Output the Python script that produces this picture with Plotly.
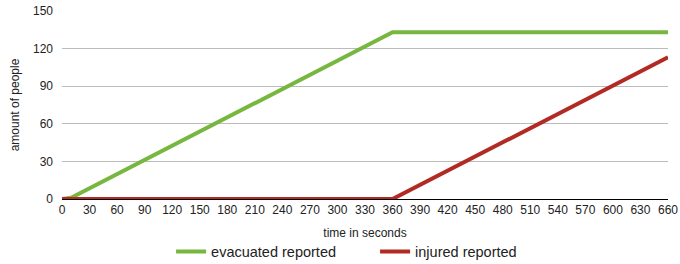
import plotly.graph_objects as go

time_evac = [0, 10, 360, 660]
evacuated = [0, 1, 133, 133]
time_inj = [0, 360, 660]
injured = [0, 0, 113]
x_ticks = list(range(0, 661, 30))
y_ticks = [0, 30, 60, 90, 120, 150]

fig = go.Figure()
fig.add_trace(go.Scatter(x=time_evac, y=evacuated, mode="lines", name="evacuated reported",
                         line=dict(color="#77b740", width=4)))
fig.add_trace(go.Scatter(x=time_inj, y=injured, mode="lines", name="injured reported",
                         line=dict(color="#b12a24", width=4)))

fig.update_layout(
    width=680, height=264,
    margin=dict(l=62, r=12, t=11, b=65, autoexpand=False),
    paper_bgcolor="white", plot_bgcolor="white",
    font=dict(family="Liberation Sans, Arial, sans-serif", size=12, color="#222"),
    showlegend=True,
    legend=dict(orientation="h", x=0.18, xanchor="left", y=-0.28, yanchor="middle",
                font=dict(size=14.5), entrywidth=159, entrywidthmode="pixels",
                tracegroupgap=0),
    xaxis=dict(range=[0, 660], tickvals=x_ticks, showgrid=False, showline=True,
               linecolor="black", linewidth=1, ticks="", zeroline=False,
               title=dict(text="time in seconds", font=dict(size=12), standoff=12),
               fixedrange=True),
    yaxis=dict(range=[0, 150], tickvals=y_ticks, showgrid=True, gridcolor="#bbbbbb",
               gridwidth=1, zeroline=False, ticks="", ticklabelstandoff=8,
               title=dict(text="amount of people", font=dict(size=12), standoff=10),
               fixedrange=True),
)
fig.write_html("out.html", config={"displayModeBar": False},
               post_script="document.body.style.margin='0';")
